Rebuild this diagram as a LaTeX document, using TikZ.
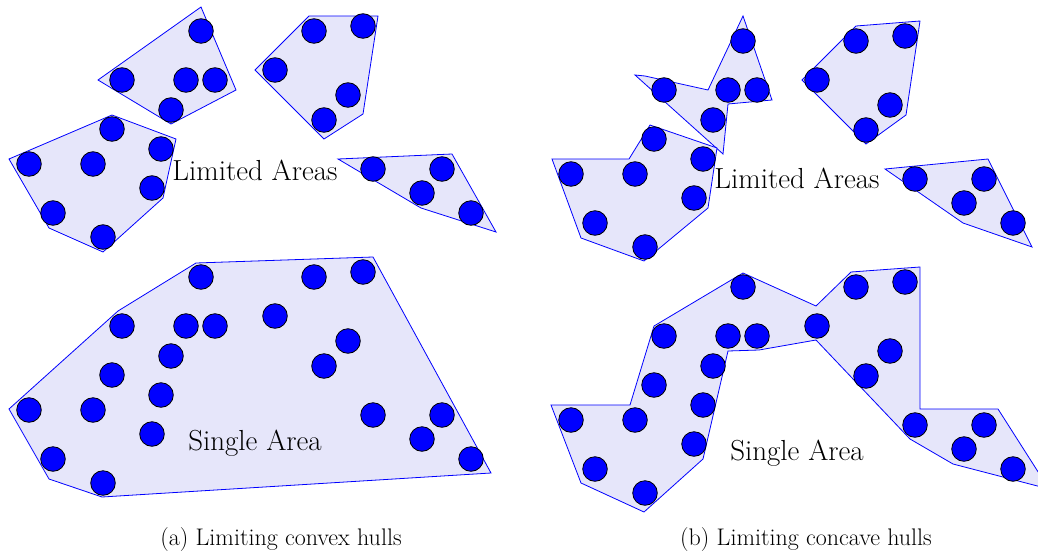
\documentclass[tikz,border=0pt]{standalone}
\begin{document}
\begin{tikzpicture}[x=1pt, y=-1pt]
    \def\dotRadius{12.3pt}

    \definecolor{hullColour}{HTML}{0000FF}
    \definecolor{hullFill}{HTML}{E6E6FA}
    \definecolor{dotColour}{HTML}{0000FF}

    \tikzset{
        hull/.style={fill=hullFill, draw=hullColour, line width=0.8pt},
        dot/.style={fill=dotColour, draw=black, line width=0.8pt},
        areaLabel/.style={font=\fontsize{29}{33}\selectfont, anchor=base},
        subCaption/.style={font=\fontsize{24}{28}\selectfont, anchor=base}
    }

    \useasboundingbox (0,0) rectangle (1038,554);

    % (a) Convex hulls, limited areas
    \filldraw[hull] (201,7) -- (236,90) -- (171,124) -- (98,80) -- cycle;
    \filldraw[hull] (309,16) -- (378,16) -- (363,114) -- (324,139) -- (255,70) -- cycle;
    \filldraw[hull] (112,115) -- (176,139) -- (163,198) -- (103,252) -- (49,228) -- (9,159) -- cycle;
    \filldraw[hull] (338,159) -- (452,154) -- (496,232) -- (421,208) -- cycle;

    % (a) Convex hull, single area
    \filldraw[hull] (9,409) -- (118,311) -- (196,263) -- (373,257) -- (491,473) -- (102,497) -- (49,479) -- cycle;

    % (b) Concave hulls, limited areas
    \filldraw[hull] (743,16) -- (772,100) -- (728,104) -- (723,154) -- (635,75) -- (645,76) -- (708,90) -- cycle;
    \filldraw[hull] (856,26) -- (920,21) -- (906,115) -- (866,144) -- (802,80) -- cycle;
    \filldraw[hull] (650,125) -- (717,148) -- (708,208) -- (644,261) -- (581,238) -- (552,159) -- (629,159) -- cycle;
    \filldraw[hull] (885,169) -- (988,159) -- (1032,247) -- (963,223) -- cycle;

    % (b) Concave hull, single area
    \filldraw[hull] (551,405) -- (630,405) -- (654,326) -- (743,273) -- (816,306) -- (851,272)
        -- (920,267) -- (920,409) -- (998,409) -- (1049,489) -- (953,464) -- (910,439)
        -- (816,340) -- (759,350) -- (728,351) -- (703,459) -- (644,512) -- (581,483) -- cycle;

    % Points, same set in every panel
    \foreach \dx/\dy in {0/0, 0/246, 542/10, 542/256}
        \foreach \x/\y in {201/31, 122/80, 186/80, 215/80, 171/110,
                           314/31, 363/26, 275/70, 348/95, 324/120,
                           112/129, 161/149, 29/164, 93/164, 152/188, 53/213, 103/237,
                           373/169, 442/169, 422/193, 471/213}
            \filldraw[dot] (\x+\dx,\y+\dy) circle (\dotRadius);

    % Labels
    \node[areaLabel] (limitedA) at (255,180) {Limited Areas};
    \node[areaLabel] (singleA) at (255,450) {Single Area};
    \node[areaLabel] (limitedB) at (797,188) {Limited Areas};
    \node[areaLabel] (singleB) at (797,460) {Single Area};

    \node[subCaption] (captionA) at (281,545) {(a) Limiting convex hulls};
    \node[subCaption] (captionB) at (806,545) {(b) Limiting concave hulls};

\end{tikzpicture}
\end{document}
